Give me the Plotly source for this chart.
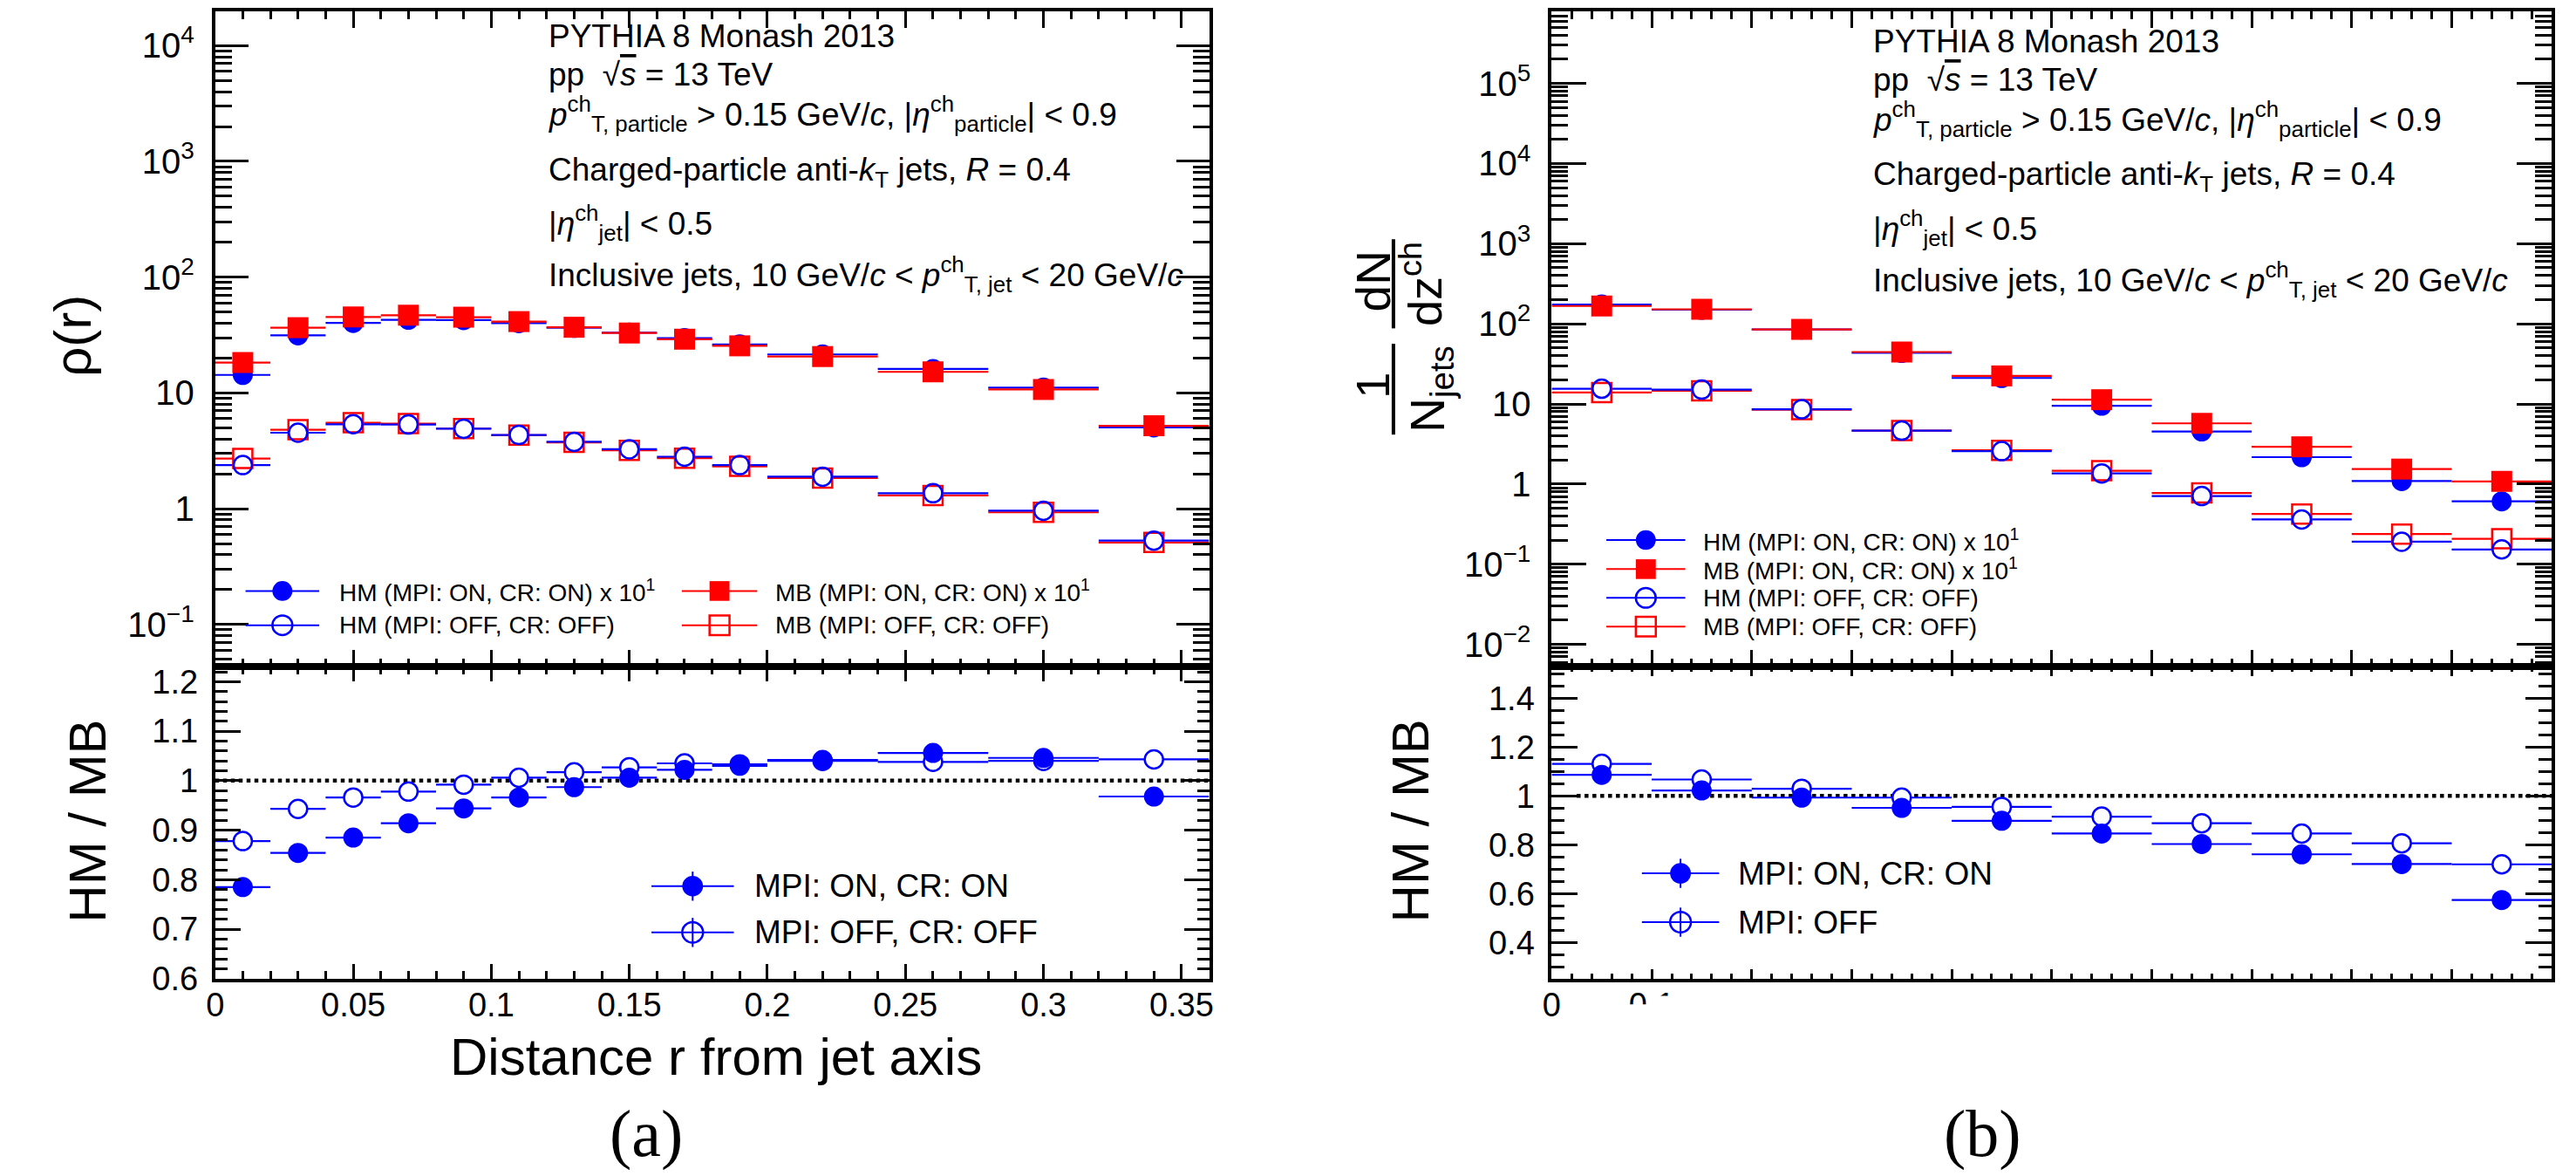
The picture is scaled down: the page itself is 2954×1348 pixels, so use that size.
import plotly.graph_objects as go

# ---- values ----

# (a) radial profile rho(r), bins in r
r_centers = [0.01, 0.03, 0.05, 0.07, 0.09, 0.11, 0.13, 0.15, 0.17, 0.19, 0.22, 0.26, 0.30, 0.34]
r_half_widths = [0.01, 0.01, 0.01, 0.01, 0.01, 0.01, 0.01, 0.01, 0.01, 0.01, 0.02, 0.02, 0.02, 0.02]
rho_hm_on = [14.3, 31.4, 40.2, 42.8, 42.5, 40.0, 36.5, 33.1, 29.7, 26.2, 21.5, 16.1, 11.1, 5.03]   # x 10
rho_mb_on = [18.3, 36.6, 45.3, 46.9, 45.1, 41.3, 36.9, 32.9, 29.1, 25.5, 20.6, 15.2, 10.7, 5.2]    # x 10
rho_hm_off = [2.38, 4.53, 5.36, 5.33, 4.90, 4.33, 3.78, 3.26, 2.81, 2.38, 1.89, 1.36, 0.96, 0.53]
rho_mb_off = [2.71, 4.81, 5.52, 5.43, 4.92, 4.31, 3.74, 3.19, 2.73, 2.32, 1.84, 1.30, 0.93, 0.51]
ratio_r_on = [0.785, 0.854, 0.885, 0.914, 0.944, 0.966, 0.987, 1.006, 1.022, 1.030, 1.042, 1.056, 1.046, 0.968]
ratio_r_off = [0.878, 0.943, 0.966, 0.978, 0.992, 1.006, 1.017, 1.027, 1.035, 1.033, 1.040, 1.038, 1.040, 1.043]

# (b) fragmentation dN/dz, bins in z
z_centers = [0.05, 0.15, 0.25, 0.35, 0.45, 0.55, 0.65, 0.75, 0.85, 0.95]
z_half_widths = [0.05, 0.05, 0.05, 0.05, 0.05, 0.05, 0.05, 0.05, 0.05, 0.05]
dndz_hm_on = [174, 150, 85.0, 43.4, 21.1, 9.5, 4.54, 2.17, 1.09, 0.61]     # x 10
dndz_mb_on = [167, 152, 85.3, 44.5, 22.4, 11.3, 5.73, 2.92, 1.54, 1.08]    # x 10
dndz_hm_off = [15.5, 15.1, 8.6, 4.65, 2.58, 1.36, 0.71, 0.362, 0.191, 0.153]
dndz_mb_off = [13.9, 14.6, 8.5, 4.65, 2.64, 1.47, 0.775, 0.424, 0.238, 0.208]
ratio_z_on = [1.086, 1.022, 0.993, 0.951, 0.898, 0.846, 0.803, 0.761, 0.721, 0.574]
ratio_z_off = [1.131, 1.067, 1.029, 0.993, 0.955, 0.915, 0.888, 0.846, 0.806, 0.720]

log_ticks_a = [0.1, 1, 10, 100, 1000, 10000]
log_labels_a = ["10<sup>−1</sup>", "1", "10", "10<sup>2</sup>", "10<sup>3</sup>", "10<sup>4</sup>"]
log_ticks_b = [0.01, 0.1, 1, 10, 100, 1000, 10000, 100000]
log_labels_b = ["10<sup>−2</sup>", "10<sup>−1</sup>", "1", "10", "10<sup>2</sup>",
                "10<sup>3</sup>", "10<sup>4</sup>", "10<sup>5</sup>"]
z_ticks = [0, 0.1, 0.2, 0.3, 0.4, 0.5, 0.6, 0.7, 0.8, 0.9, 1.0]
z_labels = ["0", "0.1", " ", " ", " ", " ", " ", " ", " ", " ", " "]

# ---- style ----
W, H = 2954, 1348
BLUE = "#0000ff"
RED = "#ff0000"
SANS = "Liberation Sans, Arial, Helvetica, sans-serif"
SERIF = "Liberation Serif, Times New Roman, serif"


def px(x):
    return x / W


def py(y):
    return 1 - y / H


def line_center(baseline, fs, sup=False, sub=False):
    # vertical centre of an annotation box for a text line with given baseline (pixels)
    top = -1.054 if sup else -0.905
    bottom = 0.358 if sub else 0.212
    return baseline + (top + bottom) / 2 * fs - 10


def add_text(fig, x, y, text, size, anchor="left", angle=0, family=SANS):
    fig.add_annotation(xref="paper", yref="paper", x=px(x), y=py(y), text=text,
                       showarrow=False, xanchor=anchor, yanchor="middle", textangle=angle,
                       font=dict(size=size, family=family, color="black"))


def add_segment(fig, x0, y0, x1, y1, color="black", width=2):
    fig.add_shape(type="line", xref="paper", yref="paper", x0=px(x0), y0=py(y0),
                  x1=px(x1), y1=py(y1), line=dict(color=color, width=width))


def add_legend_entry(fig, x_line, x_text, y, symbol, color, filled, label, fs, msize, err=0):
    # ROOT style legend entry: line through the marker, optional vertical error bar
    add_segment(fig, x_line[0], y, x_line[1], y, color, 2)
    xm = (x_line[0] + x_line[1]) / 2
    if err:
        add_segment(fig, xm, y - err, xm, y + err, color, 2)
    r = msize / 2
    fig.add_shape(type="circle" if symbol == "circle" else "rect", xref="paper", yref="paper",
                  x0=px(xm - r), x1=px(xm + r), y0=py(y + r), y1=py(y - r),
                  fillcolor=color if filled else "rgba(0,0,0,0)",
                  line=dict(color=color, width=0 if filled else 2.5))
    add_text(fig, x_text, y, label, fs)


def add_spectra(fig, x, hw, hm_on, mb_on, hm_off, mb_off, xa, ya):
    ex = dict(type="data", array=hw, symmetric=True, thickness=2.2, width=0)
    fig.add_trace(go.Scatter(x=x, y=hm_on, mode="markers", xaxis=xa, yaxis=ya,
                             marker=dict(symbol="circle", size=23, color=BLUE),
                             error_x=dict(ex, color=BLUE)))
    fig.add_trace(go.Scatter(x=x, y=mb_on, mode="markers", xaxis=xa, yaxis=ya,
                             marker=dict(symbol="square", size=24, color=RED),
                             error_x=dict(ex, color=RED)))
    # open markers: white body first so the bin lines stop at the marker, outline on top
    for y, sym, col, s in ((mb_off, "square", RED, 22), (hm_off, "circle", BLUE, 21)):
        fig.add_trace(go.Scatter(x=x, y=y, mode="markers", xaxis=xa, yaxis=ya,
                                 marker=dict(symbol=sym, size=s, color="white", line=dict(width=0)),
                                 error_x=dict(ex, color=col)))
    for y, sym, col, s in ((mb_off, "square-open", RED, 22), (hm_off, "circle-open", BLUE, 21)):
        fig.add_trace(go.Scatter(x=x, y=y, mode="markers", xaxis=xa, yaxis=ya,
                                 marker=dict(symbol=sym, size=s, color=col, line=dict(width=2.5, color=col))))


def add_ratios(fig, x, hw, r_on, r_off, xa, ya):
    ex = dict(type="data", array=hw, symmetric=True, thickness=2.2, width=0, color=BLUE)
    fig.add_trace(go.Scatter(x=x, y=r_off, mode="markers", xaxis=xa, yaxis=ya, error_x=ex,
                             marker=dict(symbol="circle", size=21, color="white",
                                         line=dict(width=2.5, color=BLUE))))
    fig.add_trace(go.Scatter(x=x, y=r_on, mode="markers", xaxis=xa, yaxis=ya, error_x=ex,
                             marker=dict(symbol="circle", size=23, color=BLUE)))


def frame(major_len, minor_len, minor=None, **kw):
    ax = dict(showline=True, linewidth=4, linecolor="black", mirror="ticks", ticks="inside",
              ticklen=major_len, tickwidth=3, tickcolor="black", showgrid=False, zeroline=False,
              minor=dict(ticks="inside", ticklen=minor_len, tickwidth=3, tickcolor="black",
                         showgrid=False))
    ax["minor"].update(minor or {})
    ax.update(kw)
    return ax


def log_minor(lo, hi):
    return [m * 10.0 ** e for e in range(lo, hi) for m in range(2, 10)]


def build_figure():
    fig = go.Figure()

    add_spectra(fig, r_centers, r_half_widths, rho_hm_on, rho_mb_on, rho_hm_off, rho_mb_off, "x", "y")
    add_ratios(fig, r_centers, r_half_widths, ratio_r_on, ratio_r_off, "x2", "y2")
    add_spectra(fig, z_centers, z_half_widths, dndz_hm_on, dndz_mb_on, dndz_hm_off, dndz_mb_off, "x3", "y3")
    add_ratios(fig, z_centers, z_half_widths, ratio_z_on, ratio_z_off, "x4", "y4")

    left = [px(229), px(1375)]
    right = [px(1770), px(2923)]
    upper = [py(767), py(2)]
    lower = [py(1131), py(767)]
    tick_font_up = dict(size=40, family=SANS, color="black")
    tick_font_lo = dict(size=38, family=SANS, color="black")

    fig.update_layout(
        width=W, height=H, margin=dict(l=0, r=0, t=0, b=0), autosize=False,
        paper_bgcolor="white", plot_bgcolor="white", showlegend=False,
        font=dict(family=SANS, color="black"),
        xaxis=frame(19, 9, domain=left, anchor="y", range=[0, 0.36], tick0=0, dtick=0.05,
                    showticklabels=False, minor=dict(tick0=0, dtick=0.01)),
        yaxis=frame(38, 19, domain=upper, anchor="x", type="log", range=[-1.366, 4.296],
                    tickvals=log_ticks_a, ticktext=log_labels_a, tickfont=tick_font_up,
                    ticklabelstandoff=12, minor=dict(tickvals=log_minor(-2, 5))),
        xaxis2=frame(17, 9, domain=left, anchor="y2", range=[0, 0.36], tick0=0, dtick=0.05,
                     tickfont=tick_font_lo, ticklabelstandoff=-6, minor=dict(tick0=0, dtick=0.01)),
        yaxis2=frame(29, 14, domain=lower, anchor="x2", range=[0.6, 1.23], tick0=0, dtick=0.1,
                     tickfont=tick_font_lo, ticklabelstandoff=8, minor=dict(tick0=0, dtick=0.02)),
        xaxis3=frame(19, 9, domain=right, anchor="y3", range=[0, 1], tick0=0, dtick=0.1,
                     showticklabels=False, minor=dict(tick0=0, dtick=0.02)),
        yaxis3=frame(40, 19, domain=upper, anchor="x3", type="log", range=[-2.28, 5.90],
                     tickvals=log_ticks_b, ticktext=log_labels_b, tickfont=tick_font_up,
                     ticklabelstandoff=12, minor=dict(tickvals=log_minor(-3, 6))),
        xaxis4=frame(11, 6, domain=right, anchor="y4", range=[0, 1], tickvals=z_ticks,
                     ticktext=z_labels, tickfont=tick_font_lo, ticklabelstandoff=-6,
                     minor=dict(tickmode="linear", tick0=0, dtick=0.02)),
        yaxis4=frame(30, 15, domain=lower, anchor="x4", range=[0.252, 1.528], tick0=0, dtick=0.2,
                     tickfont=tick_font_lo, ticklabelstandoff=8, minor=dict(tick0=0, dtick=0.05)),
    )

    # unity lines in the ratio panels
    fig.add_shape(type="line", xref="x2", yref="y2", x0=0, x1=0.36, y0=1, y1=1, layer="below",
                  line=dict(color="black", width=4.5, dash="dot"))
    fig.add_shape(type="line", xref="x4", yref="y4", x0=0.025, x1=1, y0=1, y1=1, layer="below",
                  line=dict(color="black", width=4.5, dash="dot"))

    # simulation / selection labels
    lines = [
        ("PYTHIA 8 Monash 2013", 54, False, False),
        ("pp  √<span style='text-decoration:overline'><i>s</i></span> = 13 TeV", 98.6, False, False),
        ("<i>p</i><sup>ch</sup><sub>T, particle</sub> > 0.15 GeV/<i>c</i>, "
         "|<i>η</i><sup>ch</sup><sub>particle</sub>| < 0.9", 144.6, True, True),
        ("Charged-particle anti-<i>k</i><sub>T</sub> jets, <i>R</i> = 0.4", 209, False, True),
        ("|<i>η</i><sup>ch</sup><sub>jet</sub>| < 0.5", 272, True, True),
        ("Inclusive jets, 10 GeV/<i>c</i> < <i>p</i><sup>ch</sup><sub>T, jet</sub> < 20 GeV/<i>c</i>",
         331.6, True, True),
    ]
    for x0, dy in ((611, 0), (2139, 6)):
        for text, base, sup, sub in lines:
            add_text(fig, x0, line_center(base + dy, 37, sup, sub), text, 37)

    # axis titles
    add_text(fig, 65, 381, "ρ(r)", 60, anchor="center", angle=-90)
    add_text(fig, 82.5, 947.5, "HM / MB", 60, anchor="center", angle=-90)
    add_text(fig, 1607, 947, "HM / MB", 60, anchor="center", angle=-90)
    add_text(fig, 806, 1222, "Distance r from jet axis", 60, anchor="center")
    # 1/N_jets dN/dz^ch as two stacked fractions
    add_text(fig, 1564, 317.5, "dN", 55, anchor="center", angle=-90)
    add_text(fig, 1620, 320.5, "dz<sup>ch</sup>", 54, anchor="center", angle=-90)
    add_segment(fig, 1587.5, 268, 1587.5, 372, "black", 4)
    add_text(fig, 1564, 439, "1", 54, anchor="center", angle=-90)
    add_text(fig, 1630, 442.5, "N<sub>jets</sub>", 55, anchor="center", angle=-90)
    add_segment(fig, 1587.5, 390, 1587.5, 496, "black", 4)

    # legends
    x10 = " x 10<sup>1</sup>"
    add_legend_entry(fig, (264, 349), 370, 678.5, "circle", BLUE, True, "HM (MPI: ON, CR: ON)" + x10, 28, 23)
    add_legend_entry(fig, (264, 349), 370, 718.5, "circle", BLUE, False, "HM (MPI: OFF, CR: OFF)", 28, 23)
    add_legend_entry(fig, (767, 854), 873, 678.5, "rect", RED, True, "MB (MPI: ON, CR: ON)" + x10, 28, 23)
    add_legend_entry(fig, (767, 854), 873, 718.5, "rect", RED, False, "MB (MPI: OFF, CR: OFF)", 28, 23)

    add_legend_entry(fig, (1833, 1924), 1943, 619, "circle", BLUE, True, "HM (MPI: ON, CR: ON)" + x10, 28, 23)
    add_legend_entry(fig, (1833, 1924), 1943, 653, "rect", RED, True, "MB (MPI: ON, CR: ON)" + x10, 28, 23)
    add_legend_entry(fig, (1833, 1924), 1943, 686.5, "circle", BLUE, False, "HM (MPI: OFF, CR: OFF)", 28, 23)
    add_legend_entry(fig, (1833, 1924), 1943, 720, "rect", RED, False, "MB (MPI: OFF, CR: OFF)", 28, 23)

    add_legend_entry(fig, (732, 827), 849, 1023, "circle", BLUE, True, "MPI: ON, CR: ON", 37, 24, err=17)
    add_legend_entry(fig, (732, 827), 849, 1077, "circle", BLUE, False, "MPI: OFF, CR: OFF", 37, 24, err=17)
    add_legend_entry(fig, (1874, 1963), 1983, 1008, "circle", BLUE, True, "MPI: ON, CR: ON", 37, 24, err=17)
    add_legend_entry(fig, (1874, 1963), 1983, 1065, "circle", BLUE, False, "MPI: OFF", 37, 24, err=17)

    # the right-hand panel of the original is partly blanked out
    for x0, y0, x1, y1 in ((1850, 1161, 2000, 1205), (1889, 1151, 1930, 1205), (2127, 1058, 2165, 1092)):
        fig.add_shape(type="rect", xref="paper", yref="paper", x0=px(x0), x1=px(x1),
                      y0=py(y1), y1=py(y0), fillcolor="white", line=dict(width=0), layer="above")

    # sub-figure captions
    add_text(fig, 726, 1312, "(a)", 76, anchor="center", family=SERIF)
    add_text(fig, 2267, 1312, "(b)", 76, anchor="center", family=SERIF)
    return fig


if __name__ == "__main__":
    fig = build_figure()
    fig.write_html("out.html")
